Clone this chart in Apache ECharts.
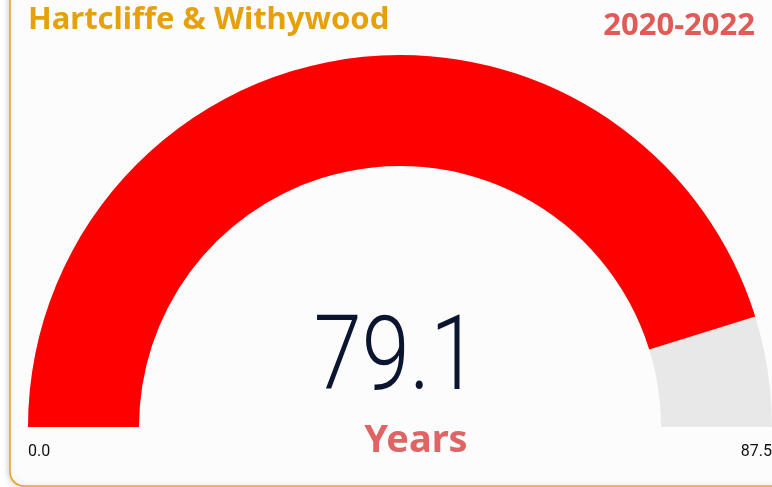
<!DOCTYPE html>
<html><head><meta charset="utf-8">
<script src="https://cdn.jsdelivr.net/npm/echarts@6/dist/echarts.min.js"></script>
<style>html,body{margin:0;padding:0;background:#fff;}#c{width:772px;height:487px;}</style>
</head><body><div id="c"></div>
<script>
const areaName = "Hartcliffe & Withywood";
const period = "2020-2022";
const gaugeMin = [0.0];
const gaugeMax = [87.5];
const gaugeValue = [79.1];
const unitLabel = ["Years"];

const chart = echarts.init(document.getElementById('c'), null, {renderer: 'canvas'});
chart.setOption({
  backgroundColor: '#ffffff',
  animation: false,
  graphic: [
    {type: 'rect', shape: {x: 10, y: -20, width: 790, height: 506, r: 14},
     style: {fill: '#fcfcfc', stroke: '#E8A317', lineWidth: 1.5,
             shadowBlur: 6, shadowColor: 'rgba(0,0,0,0.18)', shadowOffsetX: -1}, z: -10},
    {type: 'text', x: 28, y: 20, style: {text: areaName, fill: '#E6A00A', verticalAlign: 'middle',
      font: 'bold 31px "Noto Sans", "Open Sans", sans-serif'}},
    {type: 'text', x: 755, y: 26, style: {text: period, fill: '#E05B57', align: 'right', verticalAlign: 'middle',
      font: 'bold 31px "Noto Sans", "Open Sans", sans-serif'}},
    {type: 'text', x: 396, y: 363, scaleX: 0.83, style: {text: gaugeValue[0].toFixed(1), fill: '#0B1530',
      align: 'center', verticalAlign: 'middle', font: '300 104px Roboto, "Open Sans", sans-serif'}},
    {type: 'text', x: 28, y: 452, style: {text: gaugeMin[0].toFixed(1), fill: '#111', verticalAlign: 'middle',
      font: '16px Roboto, sans-serif'}},
    {type: 'text', x: 772, y: 452, style: {text: gaugeMax[0].toFixed(1), fill: '#111', align: 'right', verticalAlign: 'middle',
      font: '16px Roboto, sans-serif'}}
  ],
  series: [{
    type: 'gauge',
    center: [400, 427],
    radius: 372,
    startAngle: 180,
    endAngle: 0,
    min: gaugeMin[0],
    max: gaugeMax[0],
    splitNumber: 1,
    progress: {show: true, width: 111, roundCap: false, itemStyle: {color: '#FF0000'}},
    axisLine: {roundCap: false, lineStyle: {width: 111, color: [[1, '#E8E8E8']]}},
    axisTick: {show: false},
    splitLine: {show: false},
    axisLabel: {show: false},
    pointer: {show: false},
    anchor: {show: false},
    title: {show: true, offsetCenter: [16, 14], color: '#E06464',
      fontSize: 38, fontWeight: 'bold', fontFamily: '"Noto Sans", "Open Sans", sans-serif'},
    detail: {show: false},
    data: [{value: gaugeValue[0], name: unitLabel[0]}]
  }]
});
</script></body></html>
